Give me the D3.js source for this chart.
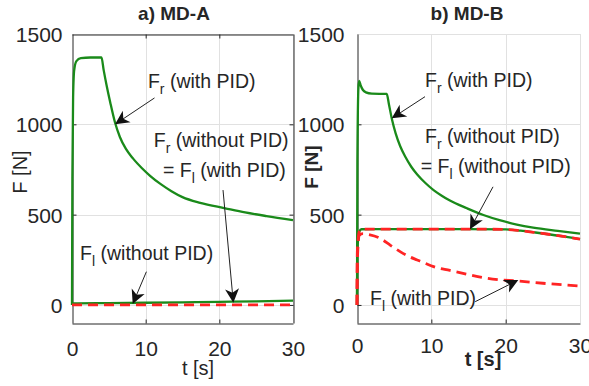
<!DOCTYPE html>
<html>
<head>
<meta charset="utf-8">
<script src="https://cdn.jsdelivr.net/npm/d3@7"></script>
<style>
  body { margin: 0; background: #fff; }
  svg text { font-family: "Liberation Sans", Arial, sans-serif; fill: #262626; }
</style>
</head>
<body>
<div id="chart"></div>
<script>
// ---- data (t in s, F in N) ----
const tTicks = [0, 10, 20, 30]
const fTicks = [0, 500, 1000, 1500]

// a) MD-A
const aFrPidT = [0, 0.05, 0.15, 0.3, 0.6, 1.2, 2.5, 4.0, 4.3, 4.7, 5.2, 5.84, 6.5, 7.3, 8.3, 9.5, 10.6, 12, 13.5, 15, 17.4, 20.8, 23.5, 26.4, 30]
const aFrPidF = [0, 700, 1150, 1300, 1350, 1366, 1370, 1370, 1300, 1215, 1120, 1010, 930, 865, 810, 757, 715, 670, 630, 597, 565, 535, 512, 492, 470]
const aFlPidT = [0, 0.1, 5, 10, 15, 20, 25, 30]          // = Fr (without PID)
const aFlPidF = [0, 8, 10, 12, 14, 17, 20, 24]
const aFlNoT = [0, 30]                                  // Fl (without PID)
const aFlNoF = [0, 0]

// b) MD-B
const bFrPidT = [0, 0.05, 0.2, 0.3, 0.5, 0.8, 1.2, 2, 4.0, 4.3, 4.7, 5.2, 5.8, 6.5, 7.3, 8.1, 9.2, 10.3, 11.4, 12.5, 14.8, 17, 19.3, 21.5, 23.7, 27, 30]
const bFrPidF = [0, 800, 1210, 1241, 1215, 1190, 1177, 1170, 1168, 1110, 1028, 950, 880, 820, 765, 722, 675, 636, 605, 578, 535, 498, 468, 445, 428, 410, 395]
const bFrNoT = [0, 0.05, 0.3, 0.6, 5, 10, 15, 20, 22, 24, 26, 28, 30]   // = Fl (without PID)
const bFrNoF = [0, 300, 405, 419, 420, 420, 420, 418, 411, 401, 390, 378, 364]
const bFlPidT = [0, 0.05, 0.3, 0.8, 1.5, 3.1, 4.5, 5.8, 7, 8.1, 9.2, 10.3, 12.5, 14.8, 17, 19, 21.5, 25, 30]
const bFlPidF = [0, 250, 385, 395, 390, 369, 330, 295, 268, 249, 230, 212, 191, 170, 151, 140, 133, 120, 105]

const zip = (t, f) => t.map((v, i) => [v, f[i]])

const panels = [
  {
    title: "a) MD-A", bold: false, box: true, x0: 72, x1: 293, titleX: 174,
    ylabX: 27, ylabY: 172, xlabX: 198, xlabY: 375, tickLabY: 355, yPad: 10,
    green: [zip(aFrPidT, aFrPidF), zip(aFlPidT, aFlPidF)],
    red: [zip(aFlNoT, aFlNoF)],
    notes: [
      {lines: [[["F", "r"], " (with PID)"]], at: [10.3, 1201], tail: [11.2, 1146], tip: [5.84, 1000]},
      {lines: [[["F", "r"], " (without PID)"], ["= ", ["F", "l"], " (with PID)"]], at: [11.1, 876], dx2: 1.25, dy2: 30,
        tail: [20.5, 636], tip: [21.9, 12]},
      {lines: [[["F", "l"], " (without PID)"]], at: [1.09, 249], tail: [10.1, 184], tip: [8.24, 5]}
    ]
  },
  {
    title: "b) MD-B", bold: true, box: false, x0: 357, x1: 580, titleX: 467,
    ylabX: 318, ylabY: 167, xlabX: 483, xlabY: 366, tickLabY: 352, yPad: 13,
    green: [zip(bFrPidT, bFrPidF), zip(bFrNoT, bFrNoF)],
    red: [zip(bFlPidT, bFlPidF), zip(bFrNoT, bFrNoF)],
    notes: [
      {lines: [[["F", "r"], " (with PID)"]], at: [9.15, 1205], tail: [9.15, 1153], tip: [4.67, 1033]},
      {lines: [[["F", "r"], " (without PID)"], ["= ", ["F", "l"], " (without PID)"]], at: [9.15, 895], dx2: -0.58, dy2: 30,
        tail: [18.3, 654], tip: [15.2, 419]},
      {lines: [[["F", "l"], " (with PID)"]], at: [1.75, 0], tail: [15.9, 18], tip: [21.7, 138]}
    ]
  }
]

const W = 589, H = 386
const plotTop = 34, plotBottom = 323

const svg = d3.select("#chart").append("svg")
  .attr("width", W).attr("height", H)

const green = "#1a8a1a", red = "#ff2424", axisCol = "#262626", gridCol = "#e1e1e1"

panels.forEach(p => {
  const x = d3.scaleLinear().domain([0, 30]).range([p.x0, p.x1])
  const y = d3.scaleLinear().domain([-100, 1500]).range([plotBottom, plotTop])
  const g = svg.append("g")

  // grid
  g.append("g").selectAll("line").data(tTicks.slice(1)).join("line")
    .attr("x1", d => Math.round(x(d)) + 0.5).attr("x2", d => Math.round(x(d)) + 0.5)
    .attr("y1", plotTop).attr("y2", plotBottom)
    .attr("stroke", gridCol)
  g.append("g").selectAll("line").data(fTicks).join("line")
    .attr("x1", p.x0).attr("x2", p.x1)
    .attr("y1", d => Math.round(y(d)) + 0.5).attr("y2", d => Math.round(y(d)) + 0.5)
    .attr("stroke", gridCol)

  // axes
  const yAxis = g.append("g").attr("transform", `translate(${Math.round(p.x0) + 0.5},0)`)
    .call(d3.axisLeft(y).tickValues(fTicks).tickFormat(d3.format("d"))
      .tickSize(-4).tickPadding(p.yPad).tickSizeOuter(0))
  const xAxis = g.append("g").attr("transform", `translate(0,${Math.round(plotBottom) + 0.5})`)
    .call(d3.axisBottom(x).tickValues(tTicks).tickFormat(d3.format("d"))
      .tickSize(-4).tickPadding(0).tickSizeOuter(0))
  ;[yAxis, xAxis].forEach(a => {
    a.select(".domain").attr("stroke", axisCol)
    a.selectAll(".tick line").attr("stroke", axisCol)
    a.selectAll("text").style("font-size", "21px").attr("fill", axisCol)
  })
  yAxis.selectAll("text").attr("dy", "0.36em")
  xAxis.selectAll("text").attr("y", p.tickLabY - plotBottom).attr("dy", 0)
  xAxis.selectAll(".tick").filter(d => d === 0 || d === 30).select("line").remove()
  yAxis.selectAll(".tick").filter(d => d === 1500).select("line").remove()

  if (p.box) {
    const rA = g.append("g").attr("transform", `translate(${Math.round(p.x1) + 0.5},0)`)
      .call(d3.axisRight(y).tickValues(fTicks.slice(0, 3)).tickSize(-4).tickFormat("").tickSizeOuter(0))
    const tA = g.append("g").attr("transform", `translate(0,${plotTop + 0.5})`)
      .call(d3.axisTop(x).tickValues(tTicks.slice(1, 3)).tickSize(-4).tickFormat("").tickSizeOuter(0))
    ;[rA, tA].forEach(a => a.selectAll("path,line").attr("stroke", axisCol))
  }

  // series
  const line = d3.line().x(d => x(d[0])).y(d => y(d[1])).curve(d3.curveMonotoneX)
  g.append("g").selectAll("path").data(p.green).join("path")
    .attr("d", line).attr("fill", "none").attr("stroke", green).attr("stroke-width", 2.3)
  g.append("g").selectAll("path").data(p.red).join("path")
    .attr("d", line).attr("fill", "none").attr("stroke", red).attr("stroke-width", 2.8)
    .attr("stroke-dasharray", "10,6")

  // title and labels
  g.append("text").attr("x", p.titleX).attr("y", 20).attr("text-anchor", "middle")
    .style("font-size", "19px").style("font-weight", "bold").text(p.title)
  g.append("text").attr("transform", `translate(${p.ylabX},${p.ylabY}) rotate(-90)`)
    .attr("text-anchor", "middle").style("font-size", p.bold ? "19px" : "20px")
    .style("font-weight", p.bold ? "bold" : "normal").text("F [N]")
  g.append("text").attr("x", p.xlabX).attr("y", p.xlabY).attr("text-anchor", "middle")
    .style("font-size", "20px").style("font-weight", p.bold ? "bold" : "normal").text("t [s]")

  // annotations (F with subscript, then normal text)
  p.notes.forEach(n => {
    n.lines.forEach((ln, i) => {
      const tx = i === 0 ? x(n.at[0]) : x(n.at[0] + n.dx2)
      const ty = i === 0 ? y(n.at[1]) : y(n.at[1]) + n.dy2
      const t = g.append("text").attr("x", tx).attr("y", ty).style("font-size", "19.5px")
      let shift = 0
      ln.forEach(part => {
        if (Array.isArray(part)) {
          t.append("tspan").attr("dy", -shift).text(part[0])
          t.append("tspan").attr("dy", 6).style("font-size", "14px").text(part[1])
          shift = 6
        } else {
          t.append("tspan").attr("dy", -shift).text(part)
          shift = 0
        }
      })
    })
    const x1 = x(n.tail[0]), y1 = y(n.tail[1]), x2 = x(n.tip[0]), y2 = y(n.tip[1])
    const ang = Math.atan2(y2 - y1, x2 - x1)
    const L = 14, hw = 7
    const len = Math.hypot(x2 - x1, y2 - y1)
    g.append("line").attr("x1", x1).attr("y1", y1)
      .attr("x2", x1 + (len - L * 0.6) * Math.cos(ang)).attr("y2", y1 + (len - L * 0.6) * Math.sin(ang))
      .attr("stroke", "#222").attr("stroke-width", 1)
    g.append("path")
      .attr("d", `M0,0 L${-L},${-hw} L${-L + 4},0 L${-L},${hw} Z`)
      .attr("transform", `translate(${x2},${y2}) rotate(${ang * 180 / Math.PI})`)
      .attr("fill", "#111")
  })
})
</script>
</body>
</html>
